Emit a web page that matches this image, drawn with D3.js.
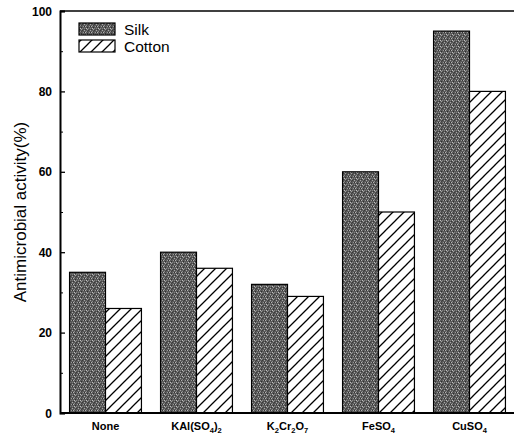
<!DOCTYPE html>
<html>
<head>
<meta charset="utf-8">
<script src="https://cdn.jsdelivr.net/npm/d3@7"></script>
<style>
  html, body { margin: 0; padding: 0; background: #fff; }
  svg { display: block; font-family: Arial, "Liberation Sans", sans-serif; }
</style>
</head>
<body>
<svg id="chart" width="514" height="435"></svg>
<script>
// Mordant treatments (x categories); label parts carry subscripts
const categories = ["None", "KAl(SO4)2", "K2Cr2O7", "FeSO4", "CuSO4"];
const categoryLabels = [
  [["None", false]],
  [["KAl(SO", false], ["4", true], [")", false], ["2", true]],
  [["K", false], ["2", true], ["Cr", false], ["2", true], ["O", false], ["7", true]],
  [["FeSO", false], ["4", true]],
  [["CuSO", false], ["4", true]]
];
const seriesNames = ["Silk", "Cotton"];
const silkValues = [35, 40, 32, 60, 95];
const cottonValues = [26, 36, 29, 50, 80];
const yTicks = [0, 20, 40, 60, 80, 100];
const yMinorTicks = [10, 30, 50, 70, 90];

const svg = d3.select("#chart");
const margin = { left: 60, right: -1, top: 11, bottom: 22 };
const W = 514, H = 435;
const x0 = margin.left, x1 = W - margin.right;
const yTop = margin.top, yBot = H - margin.bottom;

const x = d3.scaleBand().domain(categories).range([x0, x1]).paddingInner(0.21).paddingOuter(0.105);
const xs = d3.scaleBand().domain(seriesNames).range([0, x.bandwidth()]);
const y = d3.scaleLinear().domain([0, 100]).range([yBot, yTop]);

// fill patterns: grey stipple for silk, diagonal hatch for cotton
const defs = svg.append("defs");
const stip = defs.append("pattern").attr("id", "stipple")
  .attr("patternUnits", "userSpaceOnUse").attr("width", 6).attr("height", 6);
stip.append("rect").attr("width", 6).attr("height", 6).attr("fill", "#5a5a5a");
const speckles = [
  [0,0,"#a8a8a8"],[2,1,"#8c8c8c"],[4,0,"#3a3a3a"],[1,2,"#b4b4b4"],[5,2,"#9a9a9a"],
  [3,3,"#2e2e2e"],[0,4,"#7c7c7c"],[2,4,"#c0c0c0"],[4,4,"#858585"],[1,5,"#363636"],
  [3,5,"#a0a0a0"],[5,5,"#484848"],[3,1,"#404040"],[0,2,"#303030"]
];
speckles.forEach(([px, py, c]) => stip.append("rect").attr("x", px).attr("y", py)
  .attr("width", 1).attr("height", 1).attr("fill", c));

const hatch = defs.append("pattern").attr("id", "hatch")
  .attr("patternUnits", "userSpaceOnUse").attr("width", 11).attr("height", 11);
hatch.append("rect").attr("width", 11).attr("height", 11).attr("fill", "#fff");
hatch.append("path").attr("d", "M-1,12 L12,-1 M-3,3 L3,-3 M8,14 L14,8")
  .attr("stroke", "#000").attr("stroke-width", 1.3);

const fills = { Silk: "url(#stipple)", Cotton: "url(#hatch)" };

// bars
const rows = categories.map((c, i) => ({ cat: c, Silk: silkValues[i], Cotton: cottonValues[i] }));
const g = svg.append("g");
rows.forEach(r => {
  seriesNames.forEach(s => {
    g.append("rect")
      .attr("x", x(r.cat) + xs(s))
      .attr("y", y(r[s]))
      .attr("width", xs.bandwidth())
      .attr("height", y(0) - y(r[s]))
      .attr("fill", fills[s])
      .attr("stroke", "#000")
      .attr("stroke-width", 1.2);
  });
});

// top frame line
svg.append("line").attr("x1", x0).attr("x2", W).attr("y1", yTop).attr("y2", yTop)
  .attr("stroke", "#000").attr("stroke-width", 1.5);

// y axis with inward ticks
const yAxis = d3.axisRight(y).tickValues(yTicks).tickSize(5).tickFormat("");
const ya = svg.append("g").attr("transform", `translate(${x0},0)`).call(yAxis);
ya.select(".domain").attr("stroke-width", 2);
ya.selectAll(".tick line").attr("stroke-width", 1.3);
const yMinor = d3.axisRight(y).tickValues(yMinorTicks).tickSize(3).tickFormat("");
const ym = svg.append("g").attr("transform", `translate(${x0},0)`).call(yMinor);
ym.select(".domain").remove();

// y tick labels
svg.append("g").selectAll("text").data(yTicks).join("text")
  .attr("x", x0 - 8).attr("y", d => y(d) + 4.5)
  .attr("text-anchor", "end").attr("font-size", 12).attr("font-weight", "bold")
  .text(d => d);

// x axis line
const xAxis = d3.axisBottom(x).tickSize(0).tickFormat("");
const xa = svg.append("g").attr("transform", `translate(0,${yBot})`).call(xAxis);
xa.select(".domain").attr("stroke-width", 2).attr("d", `M${x0},0H${W}`);

// x labels with subscripts
const xl = svg.append("g");
categories.forEach((c, i) => {
  const t = xl.append("text")
    .attr("x", x(c) + x.bandwidth() / 2).attr("y", yBot + 17)
    .attr("text-anchor", "middle").attr("font-size", 11).attr("font-weight", "bold");
  const parts = categoryLabels[i];
  parts.forEach(([s, sub], j) => {
    const prevSub = j > 0 && parts[j - 1][1];
    const ts = t.append("tspan").text(s)
      .attr("dy", sub && !prevSub ? 3 : (!sub && prevSub ? -3 : 0));
    if (sub) ts.attr("font-size", 7.5);
  });
});

// y axis title
svg.append("text")
  .attr("transform", `translate(26,${(yTop + yBot) / 2}) rotate(-90)`)
  .attr("text-anchor", "middle").attr("font-size", 17)
  .text("Antimicrobial activity(%)");

// legend
const legend = svg.append("g");
seriesNames.forEach((s, i) => {
  const ly = 23 + i * 17;
  legend.append("rect").attr("x", 79).attr("y", ly).attr("width", 36).attr("height", 12)
    .attr("fill", fills[s]).attr("stroke", "#000").attr("stroke-width", 1.2);
  legend.append("text").attr("x", 124).attr("y", ly + 12)
    .attr("font-size", 15.5).text(s);
});
</script>
</body>
</html>
